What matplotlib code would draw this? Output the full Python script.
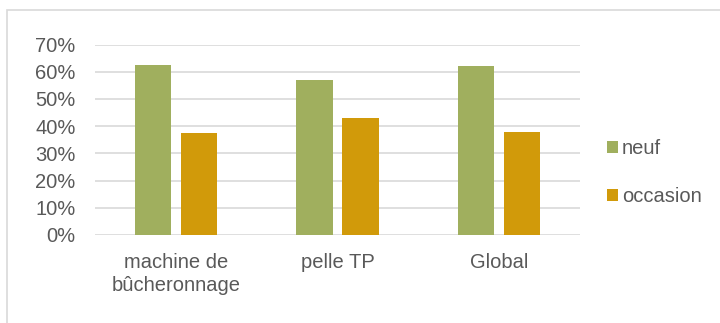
import matplotlib
matplotlib.use("Agg")
import matplotlib.pyplot as plt
from matplotlib.patches import Rectangle
import numpy as np

categories = ["machine de\nbûcheronnage", "pelle TP", "Global"]
neuf = [0.625, 0.571, 0.62]
occasion = [0.375, 0.429, 0.38]
series_names = ["neuf", "occasion"]
yticks = [0, 0.1, 0.2, 0.3, 0.4, 0.5, 0.6, 0.7]
ytick_labels = ["0%", "10%", "20%", "30%", "40%", "50%", "60%", "70%"]

green = "#A0AF5E"
gold = "#D19A0A"
text_col = "#595959"
grid_col = "#D9D9D9"

plt.rcParams['font.family'] = ['Liberation Sans', 'DejaVu Sans']
FS = 14.5

W, H = 720, 323
fig = plt.figure(figsize=(W / 100, H / 100), dpi=100)
# outer chart border (extends beyond the right and bottom edges)
fig.patches.append(Rectangle((7 / W, -0.2), 1.2, 1.2 - 10 / H, transform=fig.transFigure,
                             fill=False, edgecolor=grid_col, linewidth=1.2))

ax = fig.add_axes([95 / W, 1 - 235 / H, (580 - 95) / W, (235 - 44.5) / H])
x = np.arange(len(categories))
bw = 0.225
off = 0.1425
ax.bar(x - off, neuf, bw, color=green, label=series_names[0], zorder=3)
ax.bar(x + off, occasion, bw, color=gold, label=series_names[1], zorder=3)

ax.set_xlim(-0.5, len(categories) - 0.5)
ax.set_ylim(0, 0.7)
ax.set_yticks(yticks)
ax.set_yticklabels(ytick_labels)
ax.set_xticks(x)
ax.set_xticklabels(categories, linespacing=1.25)
ax.tick_params(axis='both', length=0, labelsize=FS, colors=text_col)
ax.tick_params(axis='x', pad=13)
ax.tick_params(axis='y', pad=14)
ax.yaxis.grid(True, color=grid_col, linewidth=1.2, zorder=0)
for s in ax.spines.values():
    s.set_visible(False)

leg = fig.legend(loc='upper left', bbox_to_anchor=(607 / W, 1 - 139 / H), frameon=False,
                 fontsize=FS, handlelength=0.55, handleheight=0.55, handletextpad=0.2,
                 labelspacing=1.45, borderpad=0, borderaxespad=0, labelcolor=text_col)

fig.savefig("out.png", dpi=100)
